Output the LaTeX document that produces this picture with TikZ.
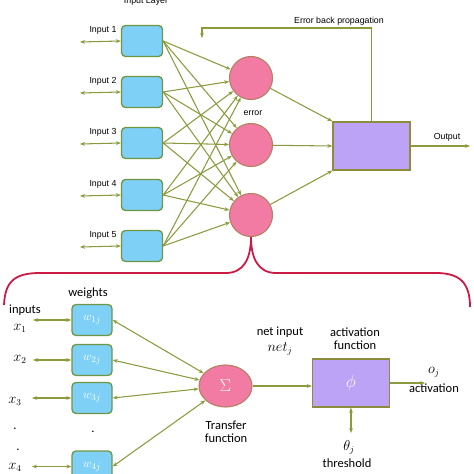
\documentclass[tikz,border=0pt]{standalone}
\usepackage{fontspec}
\setmainfont{Carlito}
\newfontfamily\arialf{Liberation Sans}
\usetikzlibrary{arrows.meta,shapes.geometric}
\definecolor{boxblue}{HTML}{7FD0F7}
\definecolor{boxborder}{HTML}{6E9640}
\definecolor{arrowc}{HTML}{8A9A3C}
\definecolor{pinkfill}{HTML}{F27BA3}
\definecolor{pinkborder}{HTML}{B48060}
\definecolor{purpfill}{HTML}{BCA3F5}
\definecolor{purpborder}{HTML}{8C8C3C}
\definecolor{bracec}{HTML}{CC1A44}
\begin{document}
\begin{tikzpicture}[x=1pt,y=-1pt,
  inbox/.style={draw=boxborder, fill=boxblue, rounded corners=4pt, line width=1.3pt, minimum width=41pt, minimum height=31pt, inner sep=0pt},
  wbox/.style={inbox, minimum width=40pt, text=white, font=\fontsize{13}{15}\selectfont},
  hid/.style={circle, draw=pinkborder, fill=pinkfill, line width=1.1pt, minimum size=43pt, inner sep=0pt},
  outbox/.style={draw=purpborder, fill=purpfill, line width=1.3pt, minimum width=77pt, minimum height=48pt, inner sep=0pt},
  conn/.style={draw=arrowc, line width=1.05pt, -{Stealth[length=5pt,width=3.8pt]}},
  dconn/.style={draw=arrowc, line width=1.05pt, {Stealth[length=5pt,width=3.8pt]}-{Stealth[length=5pt,width=3.8pt]}},
  toplab/.style={font=\arialf\fontsize{8.8}{10}\selectfont, inner sep=0pt},
  botlab/.style={font=\fontsize{12.5}{14}\selectfont, inner sep=0pt, align=center},
  mlab/.style={font=\fontsize{13.5}{15}\selectfont, inner sep=0pt},
  brace/.style={draw=bracec, line width=1.8pt}
]
\useasboundingbox (0,0) rectangle (474,474);
\clip (0,0) rectangle (474,474);
% top header (clipped, as in the reference)
\node[toplab, anchor=base] (hdr) at (146,3) {Input Layer};
% input layer
\foreach \i/\y in {1/41,2/92,3/143,4/195,5/246}{
  \node[inbox] (i\i) at (142,\y) {};
  \node[toplab] (li\i) at (103,\y-11) {Input \i};
  \coordinate (l\i) at (80,\y+1);
  \draw[dconn] (l\i) -- (i\i.west);
}
% hidden
\node[hid] (h1) at (251,78) {};
\node[hid] (h2) at (251,145) {};
\node[hid] (h3) at (251,215) {};
\node[toplab] (err) at (253,113) {error};
\foreach \i in {1,...,5}{
  \foreach \j in {1,2,3}{
    \draw[conn] (i\i.east) -- (h\j);
  }
}
% output
\node[outbox] (out) at (371.5,146) {};
\draw[conn] (h1) -- (out.north west);
\draw[conn] (h2) -- (out.west);
\draw[conn] (h3) -- (out.south west);
\coordinate (oend) at (470,146);
\draw[conn] (out.east) -- (oend);
\node[toplab] (olab) at (447,137) {Output};
\coordinate (eb1) at (371.5,28);
\coordinate (eb2) at (202,28);
\coordinate (eb3) at (202,38);
\draw[conn] (out.north) -- (eb1) -- (eb2) -- (eb3);
\node[toplab] (eblab) at (339,21) {Error back propagation};
% brace
\draw[brace] (4,305) .. controls (5,282) and (14,273) .. (40,273) -- (226,273)
  .. controls (244,273) and (251,258) .. (251,237)
  .. controls (251,258) and (258,273) .. (276,273) -- (436,273)
  .. controls (460,273) and (470,283) .. (470,307);
% bottom: neuron detail
\node[botlab] (wt) at (88,293) {weights};
\node[botlab] (inp) at (25,310) {inputs};
\node[wbox] (w1) at (92,320) {$w_{1j}$};
\node[wbox] (w2) at (92,360) {$w_{2j}$};
\node[wbox] (w3) at (92,398) {$w_{3j}$};
\node[wbox] (w4) at (92,466.5) {$w_{4j}$};
\node[mlab] (x1) at (20,328) {$x_1$};
\node[mlab] (x2) at (20,359) {$x_2$};
\node[mlab] (x3) at (15,401) {$x_3$};
\node[mlab] (x4) at (15,467) {$x_4$};
\coordinate (c1) at (33,320);
\coordinate (c2) at (33,360);
\coordinate (c3) at (32,398);
\coordinate (c4) at (32,466.5);
\foreach \k in {1,...,4}{ \draw[dconn] (c\k) -- (w\k.west); }
\node[botlab, anchor=base] (d1) at (15,429) {.};
\node[botlab, anchor=base] (d2) at (18,450) {.};
\node[botlab, anchor=base] (d3) at (93,432) {.};
\node[ellipse, draw=pinkborder, fill=pinkfill, line width=1.1pt, minimum width=53pt, minimum height=42pt, inner sep=0pt, text=white, font=\fontsize{17}{19}\selectfont] (sig) at (225.5,386) {$\Sigma$};
\foreach \k in {1,...,4}{ \draw[dconn] (w\k.east) -- (sig); }
\node[botlab] (tf) at (226,432) {Transfer\\[-1pt]function};
\node[outbox, text=white, font=\fontsize{17}{19}\selectfont] (phi) at (351,383) {$\phi$};
\draw[conn] (sig) -- (sig -| phi.west);
\node[botlab] (ni) at (280,332) {net input};
\node[mlab] (nj) at (280,349) {$net_j$};
\node[botlab] (af) at (355,339) {activation\\[-1pt]function};
\coordinate (pend) at (425,383);
\draw[conn] (phi.east) -- (pend);
\node[mlab] (oj) at (434,372) {$o_j$};
\node[botlab] (act) at (434,388) {activation};
\coordinate (th) at (351,433);
\draw[dconn] (phi.south) -- (th);
\node[mlab] (thj) at (349,447) {$\theta_j$};
\node[botlab] (thl) at (347,463) {threshold};
\end{tikzpicture}
\end{document}
